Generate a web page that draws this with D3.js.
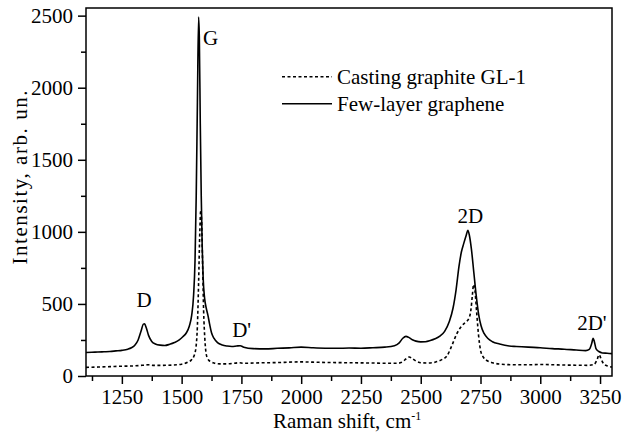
<!DOCTYPE html>
<html><head><meta charset="utf-8">
<script src="https://cdn.jsdelivr.net/npm/d3@7"></script>
<style>
body{margin:0;background:#fff;}
</style></head>
<body>
<svg id="chart" width="624" height="434"></svg>
<script>
// Few-layer graphene (solid) : [Raman shift, intensity]
const grapheneShift = [1100,1125,1150,1175,1200,1225,1250,1275,1290,1305,1318,1330,1340,1345,1352,1362,1375,1390,1410,1430,1450,1470,1490,1505,1520,1532,1542,1550,1556,1561,1566,1571,1574,1578,1582,1586,1590,1596,1603,1610,1617,1625,1635,1650,1670,1690,1710,1730,1745,1760,1800,1850,1900,1950,2000,2050,2100,2150,2200,2250,2300,2350,2390,2410,2425,2438,2450,2465,2480,2500,2520,2540,2560,2580,2600,2620,2635,2648,2660,2670,2680,2690,2697,2703,2712,2722,2732,2742,2752,2765,2780,2800,2830,2870,2900,2950,3000,3050,3100,3150,3190,3205,3215,3221,3226,3233,3245,3260,3280,3300];
const grapheneInt = [163,165,166,168,170,174,178,186,196,215,250,310,360,362,335,280,240,222,214,212,220,232,250,272,300,345,420,560,800,1250,1900,2490,2350,1750,1250,900,680,540,470,420,360,300,262,232,215,208,205,208,210,200,190,188,192,195,200,196,193,192,194,193,196,200,210,230,262,275,268,252,242,237,238,246,258,276,310,380,470,600,760,860,920,975,1010,980,880,720,560,430,350,295,262,238,222,208,205,200,196,190,186,180,176,185,225,262,240,190,170,160,158,155];

// Casting graphite GL-1 (dashed)
const graphiteShift = [1100,1150,1200,1250,1300,1340,1360,1380,1420,1460,1500,1525,1540,1552,1560,1566,1571,1576,1580,1584,1588,1592,1597,1603,1610,1620,1635,1660,1700,1740,1760,1800,1850,1900,1950,2000,2050,2100,2150,2200,2250,2300,2350,2400,2420,2440,2452,2465,2480,2500,2530,2560,2590,2610,2630,2650,2668,2685,2700,2710,2716,2721,2727,2734,2742,2750,2762,2780,2800,2850,2900,2950,3000,3050,3100,3150,3200,3225,3238,3246,3255,3265,3280,3300];
const graphiteInt = [60,62,65,68,70,75,78,74,74,76,82,95,110,140,200,350,650,1000,1150,1050,750,450,260,150,118,100,90,84,85,92,88,90,92,93,96,98,96,94,93,92,91,90,88,88,95,120,132,120,104,92,90,96,115,140,210,290,340,370,395,460,560,635,590,440,280,180,130,104,92,80,78,78,80,78,76,75,74,80,115,148,115,85,70,62];

const xMajorTicks = [1250,1500,1750,2000,2250,2500,2750,3000,3250];
const xMinorTicks = [1125,1375,1625,1875,2125,2375,2625,2875,3125];
const yMajorTicks = [0,500,1000,1500,2000,2500];
const yMinorTicks = [250,750,1250,1750,2250];

const seriesNames = ["Casting graphite GL-1","Few-layer graphene"];
const peakLabels = [
  {t:"G", x:1589, y:2297, anchor:"start"},
  {t:"D", x:1343, y:477, anchor:"middle"},
  {t:"D'", x:1751, y:273, anchor:"middle"},
  {t:"2D", x:2708, y:1064, anchor:"middle"},
  {t:"2D'", x:3216, y:319, anchor:"middle"}
];

const FONT = "'Liberation Serif', 'Times New Roman', Tinos, 'DejaVu Serif', serif";
const W=624,H=434;
const m={left:86,top:8,right:12,bottom:58};
const svg=d3.select("#chart").style("font-family",FONT);
const x=d3.scaleLinear().domain([1100,3300]).range([m.left,W-m.right]);
const y=d3.scaleLinear().domain([0,2553]).range([H-m.bottom,m.top]);
const FS=21;

// lines
const line=d3.line().x(d=>x(d[0])).y(d=>y(d[1])).curve(d3.curveMonotoneX);
const gr=grapheneShift.map((v,i)=>[v,grapheneInt[i]]);
const gp=graphiteShift.map((v,i)=>[v,graphiteInt[i]]);
svg.append("clipPath").attr("id","clip").append("rect")
  .attr("x",m.left).attr("y",m.top).attr("width",W-m.left-m.right).attr("height",H-m.top-m.bottom);
const plot=svg.append("g").attr("clip-path","url(#clip)");
plot.append("path").datum(gp).attr("d",line).attr("fill","none").attr("stroke","#000")
  .attr("stroke-width",1.6).attr("stroke-dasharray","3,2.5");
plot.append("path").datum(gr).attr("d",line).attr("fill","none").attr("stroke","#000")
  .attr("stroke-width",1.6);

// frame
svg.append("rect").attr("x",m.left).attr("y",m.top).attr("width",W-m.left-m.right)
  .attr("height",H-m.top-m.bottom).attr("fill","none").attr("stroke","#000").attr("stroke-width",1.5);

// axes
const xa=svg.append("g").attr("transform",`translate(0,${H-m.bottom})`)
  .call(d3.axisBottom(x).tickValues(xMajorTicks).tickSize(8).tickSizeOuter(0).tickPadding(5).tickFormat(d3.format("d")));
const xm=svg.append("g").attr("transform",`translate(0,${H-m.bottom})`)
  .call(d3.axisBottom(x).tickValues(xMinorTicks).tickSize(5).tickSizeOuter(0).tickFormat(""));
const ya=svg.append("g").attr("transform",`translate(${m.left},0)`)
  .call(d3.axisLeft(y).tickValues(yMajorTicks).tickSize(8).tickSizeOuter(0).tickPadding(5).tickFormat(d3.format("d")));
const ym=svg.append("g").attr("transform",`translate(${m.left},0)`)
  .call(d3.axisLeft(y).tickValues(yMinorTicks).tickSize(5).tickSizeOuter(0).tickFormat(""));
[xa,xm,ya,ym].forEach(g=>{
  g.attr("font-family",FONT).attr("font-size",FS);
  g.select(".domain").remove();
  g.selectAll("line").attr("stroke","#000").attr("stroke-width",1.5);
  g.selectAll("text").attr("fill","#000").style("font-family",FONT).style("font-size",FS+"px");
});
xa.selectAll("text").attr("dy",null).attr("y",28);

function txt(sel){ return sel.style("font-family",FONT).style("font-size",FS+"px").attr("fill","#000"); }

// axis titles
const xl=txt(svg.append("text").attr("x",273).attr("y",428));
xl.append("tspan").text("Raman shift, cm");
xl.append("tspan").attr("dy",-8).style("font-size","12px").text("-1");
txt(svg.append("text").attr("transform","translate(27,177.5) rotate(-90)")
  .attr("text-anchor","middle").attr("textLength",174).attr("lengthAdjust","spacing")
  .text("Intensity, arb. un."));

// legend
const lg=svg.append("g");
[0,1].forEach(i=>{
  const ly=76.7+i*27;
  lg.append("line").attr("x1",282).attr("x2",332).attr("y1",ly).attr("y2",ly)
    .attr("stroke","#000").attr("stroke-width",1.6).attr("stroke-dasharray",i===0?"3,2.5":null);
  txt(lg.append("text").attr("x",337).attr("y",ly+7.3)).text(seriesNames[i]);
});

// peak labels
txt(svg.selectAll(".pk").data(peakLabels).enter().append("text").attr("class","pk")
  .attr("x",d=>x(d.x)).attr("y",d=>y(d.y)).attr("text-anchor",d=>d.anchor))
  .text(d=>d.t);
</script>
</body></html>
